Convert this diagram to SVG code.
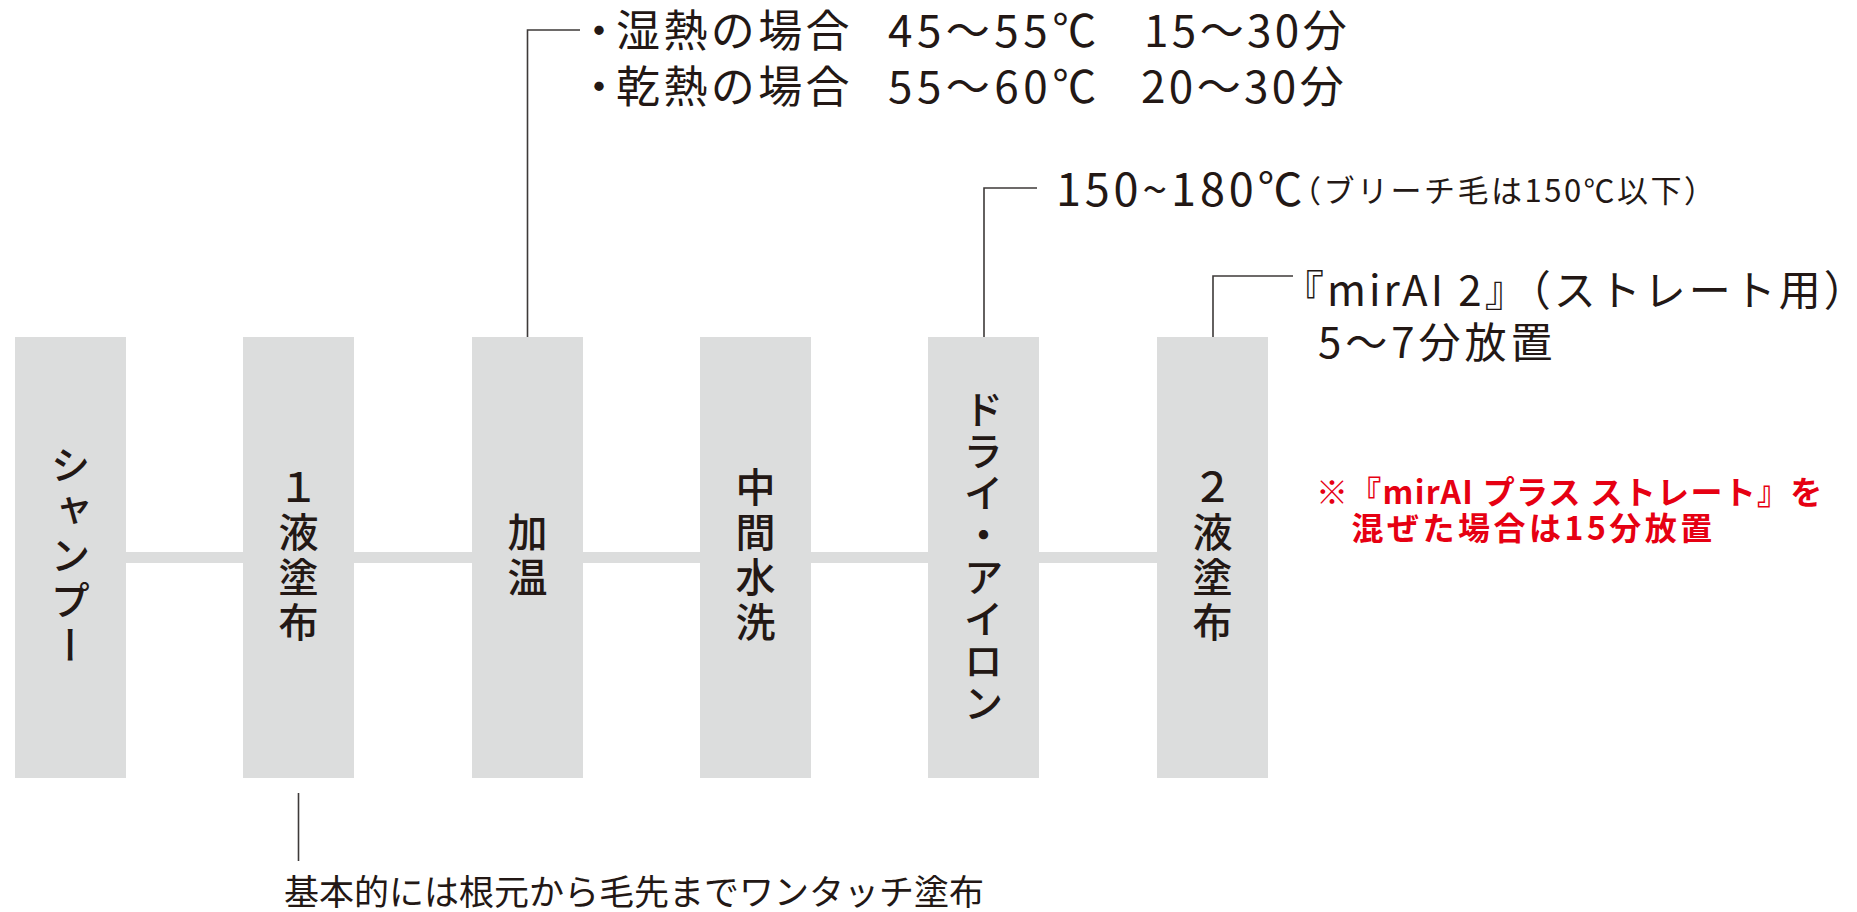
<svg xmlns="http://www.w3.org/2000/svg" width="1857" height="912" viewBox="0 0 1857 912">
<style>
.box{fill:#dcdddd}
.lead{fill:none;stroke:#3e3a39;stroke-width:1.6}
.t{font-family:"Noto Sans CJK JP","Noto Sans",sans-serif;fill:#231815}
.v{font-size:40px;font-weight:500;writing-mode:vertical-rl;text-anchor:middle;letter-spacing:5px}
.n1{font-size:44px;font-weight:400;letter-spacing:3.4px}
.n2{font-size:45px;font-weight:400;letter-spacing:3.8px}
.n3{font-size:31px;font-weight:400;letter-spacing:2.5px}
.n4{font-size:42px;font-weight:400;letter-spacing:3px}
.n5{font-size:35px;font-weight:400}
.red{font-family:"Noto Sans CJK JP","Noto Sans",sans-serif;fill:#e60012;font-size:32px;font-weight:700;letter-spacing:3.5px}
</style>
<g id="connectors">
<rect class="box" x="120" y="552" width="1045" height="11"/>
<path class="lead" d="M527.5 337V30H580"/>
<path class="lead" d="M984 337V188H1037"/>
<path class="lead" d="M1213 337V276H1293"/>
<path class="lead" d="M298.5 793V861"/>
</g>
<g id="node-shampoo">
<rect class="box" x="15" y="337" width="111" height="441"/>
<text class="t v" x="70.5" y="557">シャンプー</text>
</g>
<g id="node-eki1">
<rect class="box" x="243" y="337" width="111" height="441"/>
<text class="t v" x="298.5" y="557">１液塗布</text>
</g>
<g id="node-kaon">
<rect class="box" x="472" y="337" width="111" height="441"/>
<text class="t v" x="527.5" y="557">加温</text>
</g>
<g id="node-suisen">
<rect class="box" x="700" y="337" width="111" height="441"/>
<text class="t v" x="755.5" y="557">中間水洗</text>
</g>
<g id="node-dry">
<rect class="box" x="928" y="337" width="111" height="441"/>
<text class="t v" x="983.5" y="557" style="letter-spacing:2px">ドライ・アイロン</text>
</g>
<g id="node-eki2">
<rect class="box" x="1157" y="337" width="111" height="441"/>
<text class="t v" x="1212.5" y="557">２液塗布</text>
</g>
<g id="label-kaon">
<text class="t n1" y="47"><tspan x="577">・</tspan><tspan x="616">湿熱の場合</tspan><tspan x="888" style="letter-spacing:4.5px">45〜55℃</tspan><tspan x="1144">15〜30分</tspan></text>
<text class="t n1" y="103"><tspan x="577">・</tspan><tspan x="616">乾熱の場合</tspan><tspan x="888" style="letter-spacing:4.5px">55〜60℃</tspan><tspan x="1141">20〜30分</tspan></text>
</g>
<g id="label-dry">
<text class="t n2" x="1056" y="206">150~180℃</text>
<text class="t n3" x="1290" y="202">（ブリーチ毛は150℃以下）</text>
</g>
<g id="label-eki2">
<text class="t n4" x="1282" y="306">『mirAI 2』（ストレート用）</text>
<text class="t n4" x="1318" y="358" style="letter-spacing:4px">5〜7分放置</text>
</g>
<g id="note-red">
<text class="red" x="1316" y="504" style="letter-spacing:1.3px">※『mirAI プラス ストレート』を</text>
<text class="red" x="1316" y="540">　混ぜた場合は15分放置</text>
</g>
<g id="label-eki1">
<text class="t n5" x="284" y="905">基本的には根元から毛先までワンタッチ塗布</text>
</g>
</svg>
